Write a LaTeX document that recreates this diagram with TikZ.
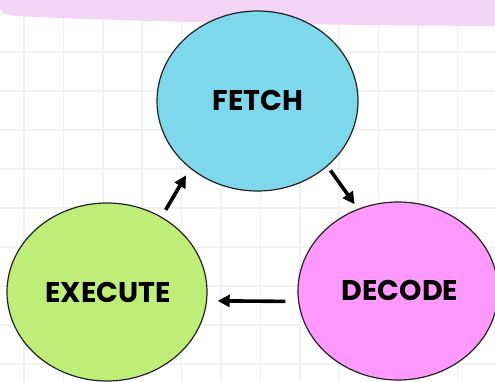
\documentclass[tikz,border=0pt]{standalone}
\usepackage{fontspec}
\newfontfamily\labelfont{Poppins}
\usetikzlibrary{shapes.geometric,arrows.meta}
\definecolor{fetchc}{HTML}{7DD8EB}
\definecolor{execc}{HTML}{BEEE77}
\definecolor{decc}{HTML}{FF99FF}
\definecolor{bandc}{HTML}{F2D4F4}
\definecolor{gridc}{HTML}{F1F1F1}
\definecolor{edgec}{HTML}{222222}
\tikzset{
  stage/.style={ellipse, draw=edgec, line width=1.2pt, inner sep=0pt,
    minimum width=200pt, minimum height=178pt},
  stagetext/.style={font=\labelfont\bfseries\fontsize{28.5}{32}\selectfont, text=black, inner sep=0pt},
  arr/.style={line width=3.6pt, -{Triangle[length=12pt,width=12pt]}},
  gridline/.style={draw=gridc, line width=1.6pt}
}
\begin{document}
\begin{tikzpicture}[x=1pt,y=-1pt]
\useasboundingbox (0,0) rectangle (495,382);
\fill[white] (0,0) rectangle (495,382);
% grid
\foreach \i in {0,...,12} {
  \draw[gridline] ({24+39.4*\i},0) -- ({24+39.4*\i},382);
}
\foreach \j in {0,...,9} {
  \draw[gridline] (0,{13+39*\j}) -- (495,{13+39*\j});
}
% band
\fill[bandc] (0,0) -- (495,0) -- (495,26)
  .. controls (300,25) and (150,22) .. (25,16.5)
  .. controls (8,15.5) and (2,14) .. (0,9) -- cycle;
% stages
\node[stage, fill=fetchc, minimum width=201pt, minimum height=180pt] (fetch) at (257.5,101) {};
\node[stage, fill=execc] (exe) at (107,292) {};
\node[stage, fill=decc] (dec) at (398,291) {};
\node[stagetext] (tf) at (258,100) {FETCH};
\node[stagetext] (te) at (108,292) {EXECUTE};
\node[stagetext] (td) at (400,290) {DECODE};
% arrows
\draw[arr, shorten <=8pt, shorten >=8pt] (exe.54.5) -- (fetch.225.8);
\draw[arr, shorten <=5pt, shorten >=5.7pt] (fetch.-43) -- (dec.116.6);
\draw[arr, shorten <=12.8pt, shorten >=10.6pt] (dec.186.3) -- (exe.-5.7);
\end{tikzpicture}
\end{document}
